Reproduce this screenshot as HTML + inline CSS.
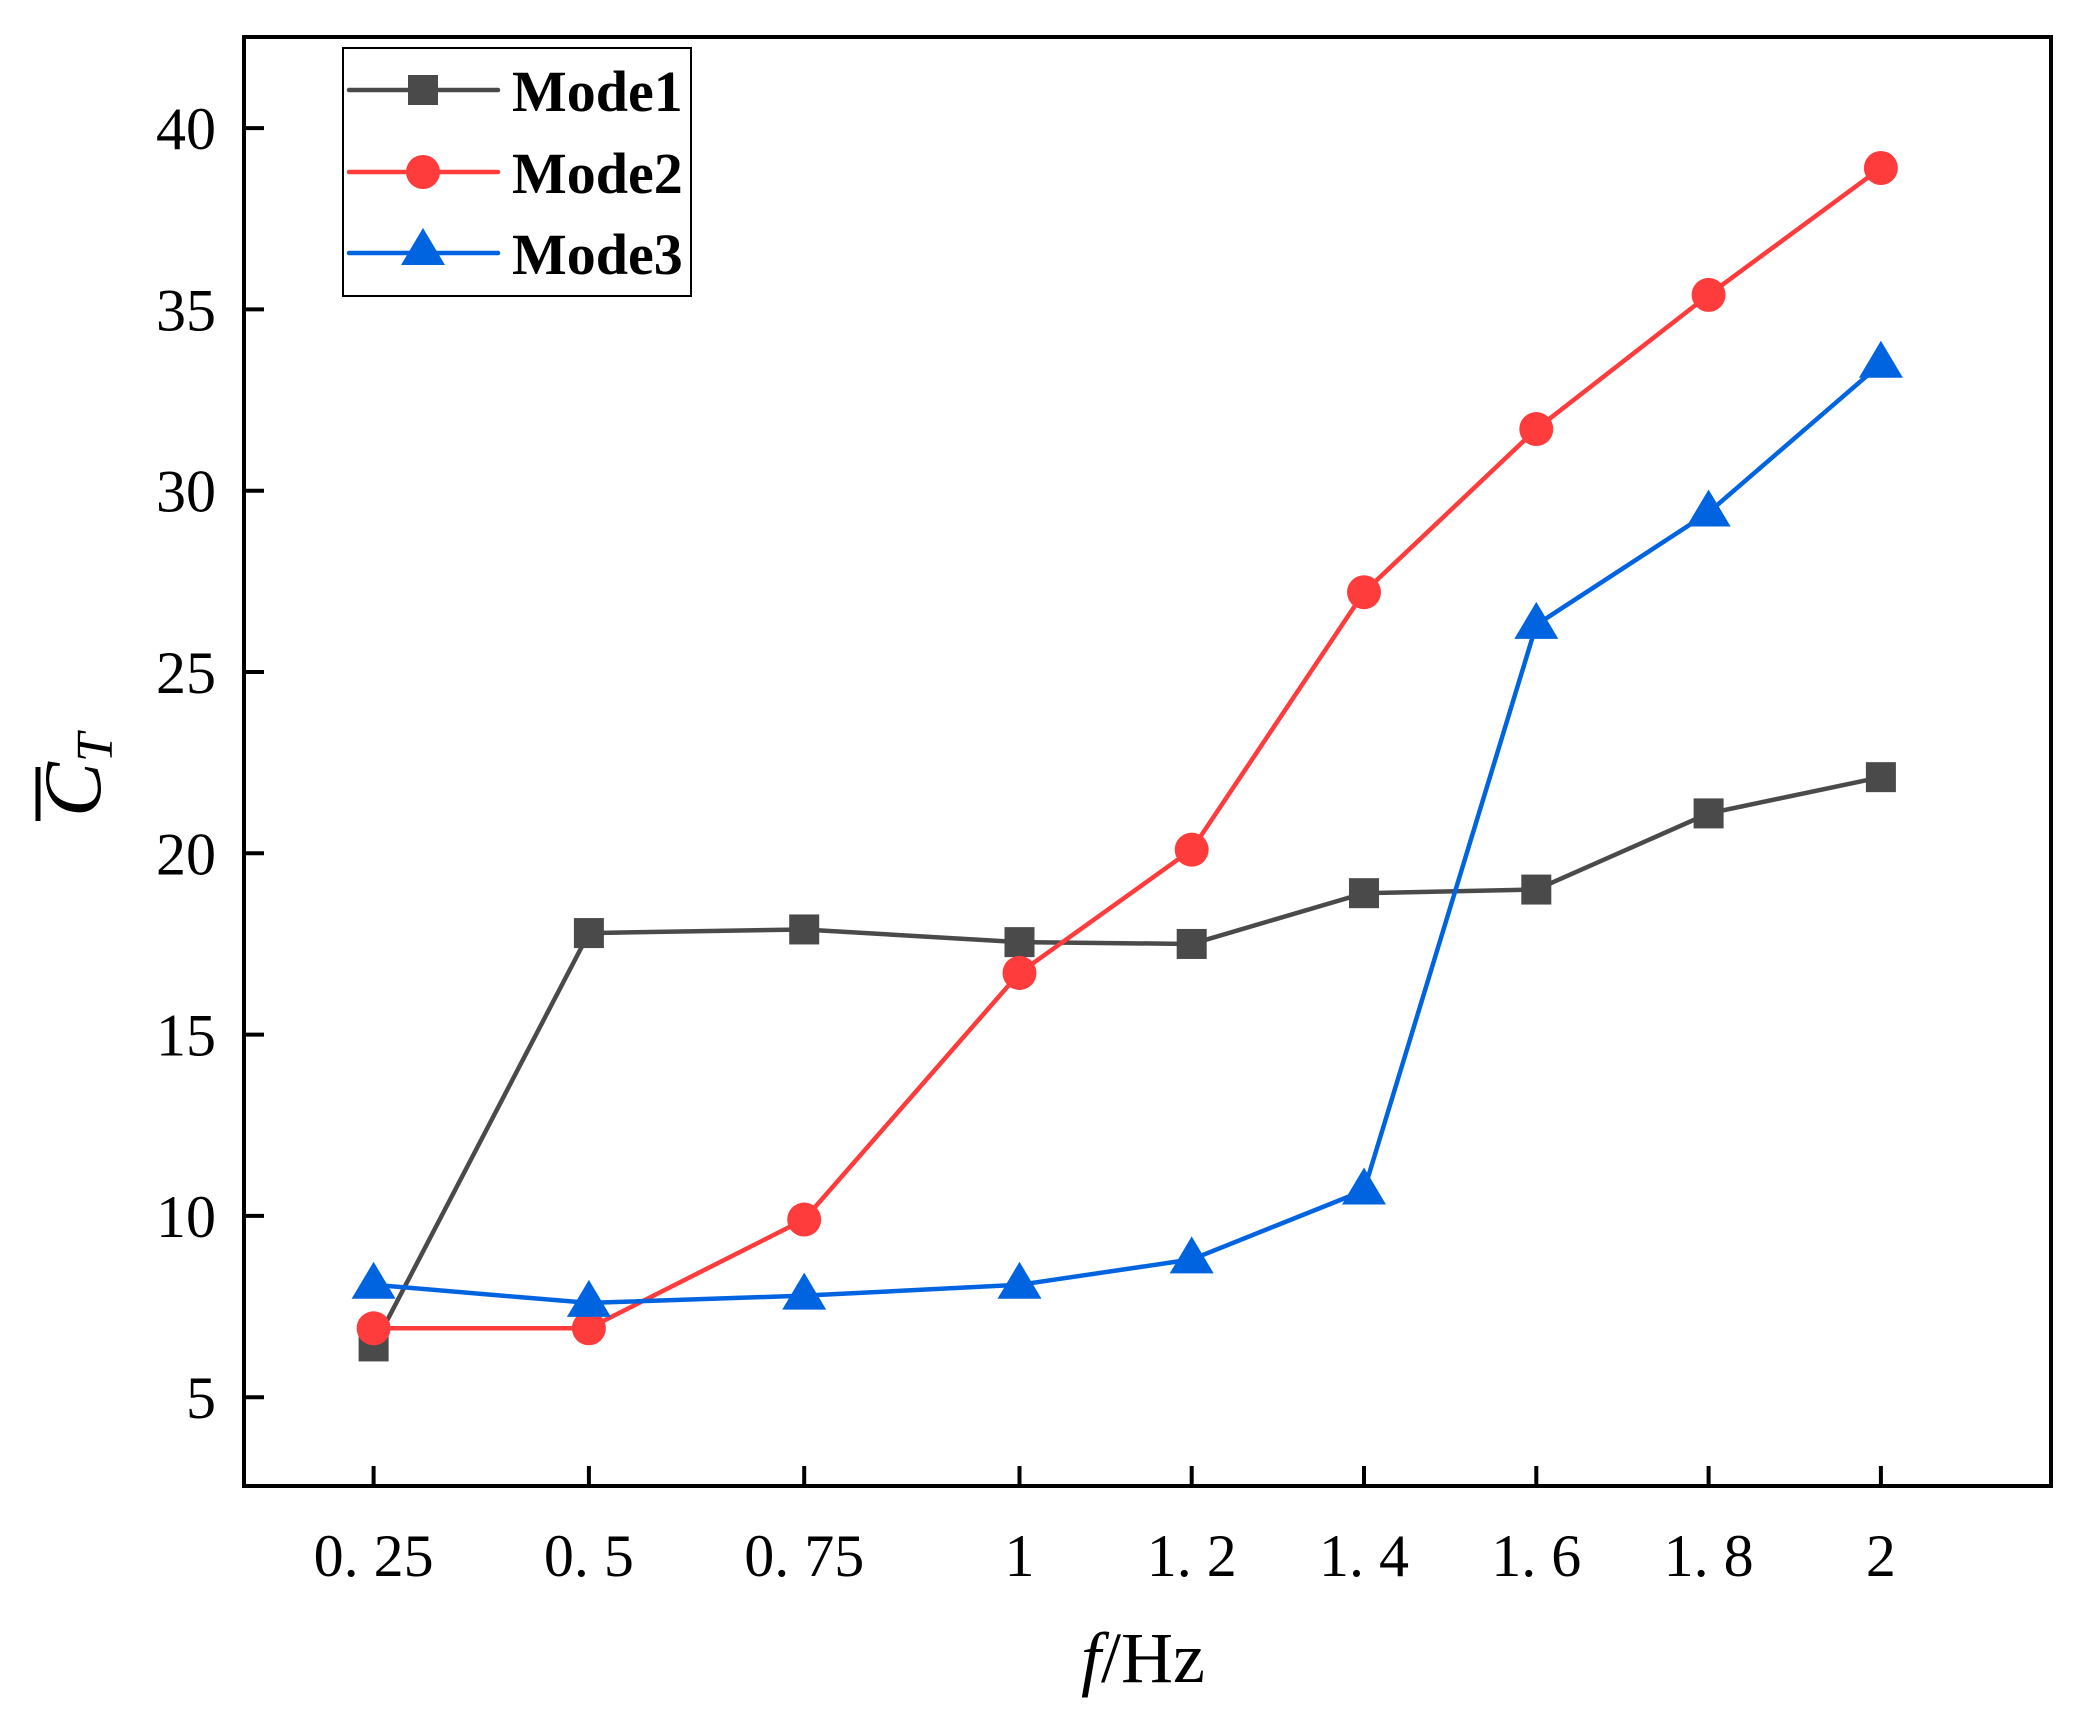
<!DOCTYPE html>
<html><head><meta charset="utf-8"><style>
html,body{margin:0;padding:0;background:#fff;}
svg{display:block;}
text{font-family:"Liberation Serif",serif;fill:#000;}
</style></head><body>
<svg id="chart" width="2092" height="1732" viewBox="0 0 2092 1732">
<g id="axes"></g>
<g id="series"></g>
<g id="legend">
  <rect x="343" y="48" width="348" height="248" fill="#fff" stroke="#000" stroke-width="2"/>
</g>
<text x="1143" y="1682" font-size="72" text-anchor="middle"><tspan font-style="italic">f</tspan>/Hz</text>
<g transform="translate(100,775) rotate(-90)">
  <text x="0" y="0" font-size="82" font-style="italic" text-anchor="middle">C<tspan font-size="52" dy="12">T</tspan></text>
  <line x1="-46" y1="-62" x2="8" y2="-62" stroke="#000" stroke-width="5"/>
</g>
</svg>
<script>
const categories = [0.25, 0.5, 0.75, 1, 1.2, 1.4, 1.6, 1.8, 2];
const xTickLabels = ["0. 25", "0. 5", "0. 75", "1", "1. 2", "1. 4", "1. 6", "1. 8", "2"];
const yTicks = [5, 10, 15, 20, 25, 30, 35, 40];
const mode1 = [6.4, 17.8, 17.9, 17.55, 17.5, 18.9, 19.0, 21.1, 22.1];
const mode2 = [6.9, 6.9, 9.9, 16.7, 20.1, 27.2, 31.7, 35.4, 38.9];
const mode3 = [8.1, 7.6, 7.8, 8.1, 8.8, 10.7, 26.3, 29.4, 33.5];
const seriesNames = ["Mode1", "Mode2", "Mode3"];

const NS = "http://www.w3.org/2000/svg";
const L = 244, R = 2051, T = 37, B = 1486;
function xs(v){ return v <= 1 ? 373.6 + (v - 0.25) / 0.25 * 215.3 : 1019.4 + (v - 1) / 0.2 * 172.3; }
function ys(v){ return 128.1 + (40 - v) * 36.26; }
function mk(tag, attrs, parent){ const e = document.createElementNS(NS, tag); for (const k in attrs) e.setAttribute(k, attrs[k]); parent.appendChild(e); return e; }

const axes = document.getElementById('axes');
const frame = mk('rect', {x:L, y:T, width:R-L, height:B-T, fill:'none', stroke:'#000', 'stroke-width':4}, axes);


yTicks.forEach(v => {
  const t = mk('line', {x1:L, x2:L+20, y1:ys(v), y2:ys(v), stroke:'#000', 'stroke-width':4}, axes);
  
  
  const lb = mk('text', {x:L-28, y:ys(v)+21, 'font-size':60, 'text-anchor':'end'}, axes);
  lb.textContent = v;
  
  
});
categories.forEach((c, i) => {
  const t = mk('line', {x1:xs(c), x2:xs(c), y1:B, y2:B-20, stroke:'#000', 'stroke-width':4}, axes);
  
  
  const lb = mk('text', {x:xs(c), y:1576, 'font-size':60, 'text-anchor':'middle'}, axes);
  lb.textContent = xTickLabels[i];
  
  
});

const colors = ['#4a4a4a', '#ff3c3c', '#0064e1'];
const shapes = ['square', 'circle', 'triangle'];
function marker(shape, cx, cy, color, parent){
  let m;
  if (shape === 'square') m = mk('rect', {x:cx-15, y:cy-15, width:30, height:30, fill:color}, parent);
  else if (shape === 'circle') m = mk('circle', {cx:cx, cy:cy, r:17, fill:color}, parent);
  else m = mk('polygon', {points:`${cx},${cy-23} ${cx-22},${cy+14} ${cx+22},${cy+14}`, fill:color}, parent);
  return m;
}
const sg = document.getElementById('series');
[mode1, mode2, mode3].forEach((vals, s) => {
  const g = mk('g', {}, sg);
  
  
  const pl = mk('polyline', {points: vals.map((v, i) => xs(categories[i]) + ',' + ys(v)).join(' '), fill:'none', stroke:colors[s], 'stroke-width':4.5}, g);
  
  
  vals.forEach((v, i) => {
    const m = marker(shapes[s], xs(categories[i]), ys(v), colors[s], g);
    
    
  });
});

const lg = document.getElementById('legend');
const rowsY = [90, 172, 253];
seriesNames.forEach((n, s) => {
  const g = mk('g', {}, lg);
  
  
  mk('line', {x1:349, x2:498, y1:rowsY[s], y2:rowsY[s], stroke:colors[s], 'stroke-width':4.5, 'stroke-linecap':'round'}, g);
  marker(shapes[s], 423, rowsY[s] + (s === 2 ? -2 : 0), colors[s], g);
  const t = mk('text', {x:512, y:rowsY[s]+21, 'font-size':58, 'font-weight':'bold'}, g);
  t.textContent = n;
});
</script>
</body></html>
